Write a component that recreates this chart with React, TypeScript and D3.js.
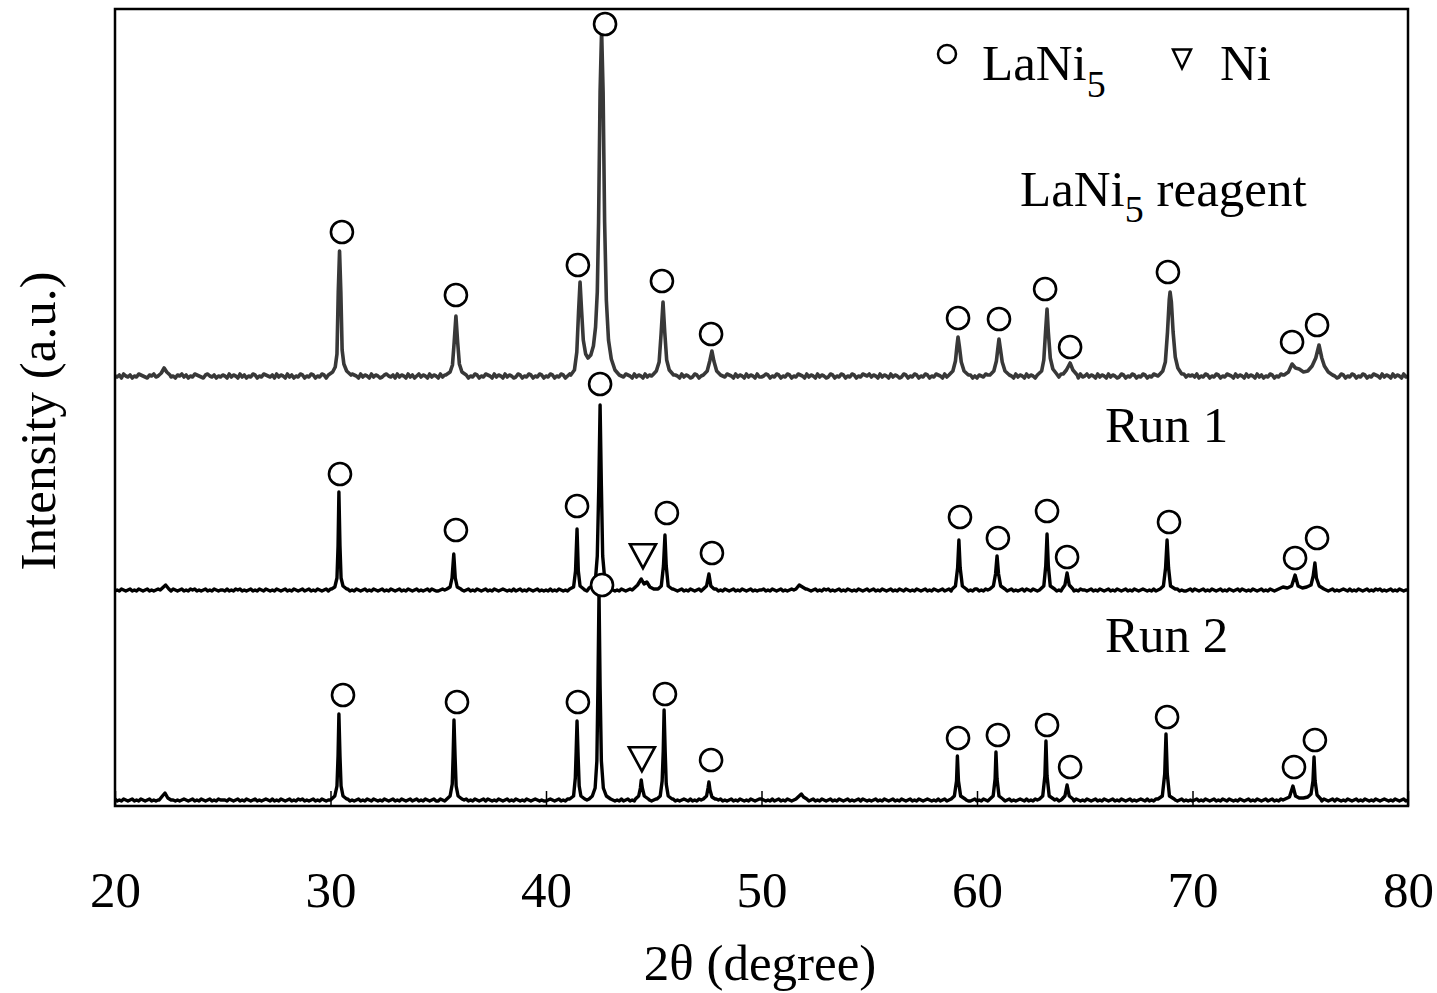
import React, { useEffect, useRef } from "react";
import * as d3 from "d3";

const WIDTH = 1437;
const HEIGHT = 993;
const PLOT = { left: 115, right: 1408, top: 9, bottom: 806 };
const FONT = "'Times New Roman', 'Liberation Serif', serif";

const xDomain = [20, 80];
const xTicks = [20, 30, 40, 50, 60, 70, 80];
const STEP = 0.1; // baseline sampling step (degree)

const reagentBase = [
  "65748657465876547685746587564768574658765478657465",
  "76485764857465874658765748576485746587465874658746",
  "57468574658764857648576457865748576485746857648576",
  "48576485746587465874658764857648576458746587465874",
  "65874658746857648576485746587465874658764857648576",
  "74658764857648576458746857465874658764857648576485",
  "56874658746587465876485764857645874658746587465876",
  "85764857648576458746587465874658764857648576485746",
  "47658746587465876485764857645874658746587465876485",
  "68576485764857645874658746587465876485764857648576",
  "75846587465874658764857648576485746587465874658764",
  "56485764857648576458746587465874658764857648576485",
  "666666",
].join("");
const run1Base = [
  "56576567565765675656765756576567565767565675657656",
  "65756576756567565765765657656756576567567565765675",
  "76565756756576567565765675657656756576567565675765",
  "56765675657656756576567565765676565756756576567565",
  "65756576565765675765657656756576565765676565765675",
  "57656756576567565765675656765756576567565765675656",
  "67565765675656765756576567565767565675657656576567",
  "56756576567565765765657656756576567567565765675657",
  "75657656756576567565675765765656765675657656756576",
  "65675657656756576567565765676565756756576567565567",
  "57656756576567565765675765657656756576565765676565",
  "66576567565765675656765756576567565767565675657656",
  "666666",
].join("");
const run2Base = [
  "75657656756576567565675765765656765675657656756576",
  "66576567565765675656765756576567565767565675657656",
  "65756576756567565765765657656756576567567565765675",
  "57656756576567565765675765657656756576565765676565",
  "56765675657656756576567565765676565756756576567565",
  "67565765675656765756576567565767565675657656576567",
  "76565756756576567565765675657656756576567565675765",
  "65675657656756576567565765676565756756576567565567",
  "56576567565765675656765756576567565767565675657656",
  "57656756576567565765675656765756576567565765675656",
  "56756576567565765765657656756576567567565765675657",
  "65756576565765675765657656756576565765676565765675",
  "666666",
].join("");

// peak profiles [2theta, counts]
const reagentPeaks = [
  [[22.0, 6], [22.15, 9], [22.28, 14], [22.4, 10], [22.55, 7]],
  [[29.9, 7], [30.1, 10], [30.22, 15], [30.3, 28], [30.36, 90], [30.42, 131], [30.48, 90], [30.54, 32], [30.62, 18], [30.75, 11], [30.95, 7]],
  [[35.35, 7], [35.55, 10], [35.66, 17], [35.74, 40], [35.82, 66], [35.9, 40], [35.98, 18], [36.1, 10], [36.3, 7]],
  [[41.15, 7], [41.32, 12], [41.43, 30], [41.51, 70], [41.58, 100], [41.65, 72], [41.73, 42], [41.84, 28], [41.95, 24], [42.08, 27], [42.2, 36], [42.3, 55], [42.38, 90], [42.44, 160], [42.51, 290], [42.58, 352], [42.65, 290], [42.72, 160], [42.8, 82], [42.9, 42], [43.03, 23], [43.2, 12], [43.4, 7]],
  [[44.95, 7], [45.12, 11], [45.25, 20], [45.34, 48], [45.43, 80], [45.51, 50], [45.6, 22], [45.72, 12], [45.92, 7]],
  [[47.3, 7], [47.48, 11], [47.6, 21], [47.7, 31], [47.79, 21], [47.92, 11], [48.1, 7]],
  [[58.7, 7], [58.88, 11], [59.0, 21], [59.07, 36], [59.12, 45], [59.18, 36], [59.27, 20], [59.4, 11], [59.6, 7]],
  [[60.6, 7], [60.78, 11], [60.9, 21], [60.97, 34], [61.02, 43], [61.08, 34], [61.17, 20], [61.3, 11], [61.5, 7]],
  [[62.8, 7], [63.0, 11], [63.1, 22], [63.18, 50], [63.25, 73], [63.31, 50], [63.4, 24], [63.52, 13], [63.7, 8]],
  [[64.0, 8], [64.15, 12], [64.32, 19], [64.45, 12], [64.65, 7]],
  [[68.45, 7], [68.62, 11], [68.74, 20], [68.84, 50], [68.92, 82], [68.96, 90], [69.02, 80], [69.1, 50], [69.2, 25], [69.32, 14], [69.5, 8]],
  [[74.25, 7], [74.45, 10], [74.62, 18], [74.78, 14], [74.95, 13], [75.15, 10], [75.35, 11], [75.55, 16], [75.72, 24], [75.87, 37], [76.0, 24], [76.12, 16], [76.3, 10], [76.5, 7]],
];
const run1Peaks = [
  [[22.1, 6], [22.25, 9], [22.35, 11], [22.5, 7]],
  [[30.05, 7], [30.2, 9], [30.3, 18], [30.35, 50], [30.39, 104], [30.44, 50], [30.49, 18], [30.58, 10], [30.75, 7]],
  [[35.4, 7], [35.55, 9], [35.64, 18], [35.72, 42], [35.79, 18], [35.88, 9], [36.05, 7]],
  [[41.1, 7], [41.28, 9], [41.37, 25], [41.44, 67], [41.5, 25], [41.58, 10], [41.75, 7]],
  [[42.0, 8], [42.15, 10], [42.3, 18], [42.38, 40], [42.45, 110], [42.51, 191], [42.57, 110], [42.63, 40], [42.72, 18], [42.85, 10], [43.05, 7]],
  [[44.05, 7], [44.25, 11], [44.42, 17], [44.55, 12], [44.68, 14], [44.82, 9], [45.0, 7]],
  [[45.2, 7], [45.35, 10], [45.45, 30], [45.52, 61], [45.58, 30], [45.67, 10], [45.85, 7]],
  [[47.3, 7], [47.45, 10], [47.56, 22], [47.65, 10], [47.8, 7]],
  [[51.6, 7], [51.75, 11], [51.9, 9], [52.05, 7]],
  [[58.85, 7], [59.0, 10], [59.1, 28], [59.16, 56], [59.22, 28], [59.32, 10], [59.5, 7]],
  [[60.6, 7], [60.76, 10], [60.86, 22], [60.93, 40], [61.0, 22], [61.1, 10], [61.3, 7]],
  [[62.95, 7], [63.1, 10], [63.19, 30], [63.25, 62], [63.31, 30], [63.4, 10], [63.6, 7]],
  [[63.95, 7], [64.08, 11], [64.18, 23], [64.28, 11], [64.45, 7]],
  [[68.5, 7], [68.65, 10], [68.75, 28], [68.82, 56], [68.89, 28], [68.98, 10], [69.2, 7]],
  [[74.0, 7], [74.2, 9], [74.4, 8], [74.6, 10], [74.76, 21], [74.9, 10], [75.1, 8], [75.3, 9], [75.5, 11], [75.6, 20], [75.68, 33], [75.75, 18], [75.88, 10], [76.1, 7]],
];
const run2Peaks = [
  [[22.05, 6], [22.2, 10], [22.32, 13], [22.45, 8], [22.6, 6]],
  [[30.05, 7], [30.2, 10], [30.3, 20], [30.35, 50], [30.39, 92], [30.44, 50], [30.49, 20], [30.58, 10], [30.75, 7]],
  [[35.4, 7], [35.55, 10], [35.65, 22], [35.69, 50], [35.73, 86], [35.78, 50], [35.83, 20], [35.92, 10], [36.1, 7]],
  [[41.1, 7], [41.28, 10], [41.36, 28], [41.4, 55], [41.44, 85], [41.49, 50], [41.54, 20], [41.62, 10], [41.8, 7]],
  [[42.0, 7], [42.15, 10], [42.28, 18], [42.36, 45], [42.41, 120], [42.46, 214], [42.51, 120], [42.57, 45], [42.66, 18], [42.8, 10], [43.0, 7]],
  [[44.15, 7], [44.3, 10], [44.38, 18], [44.42, 26], [44.47, 18], [44.56, 10], [44.75, 7]],
  [[45.15, 7], [45.3, 10], [45.39, 25], [45.44, 55], [45.48, 96], [45.53, 55], [45.58, 22], [45.67, 10], [45.85, 7]],
  [[47.3, 7], [47.45, 10], [47.52, 18], [47.56, 24], [47.61, 16], [47.7, 9], [47.85, 7]],
  [[51.6, 7], [51.75, 10], [51.85, 12], [51.95, 9], [52.1, 7]],
  [[58.8, 7], [58.95, 10], [59.05, 25], [59.09, 50], [59.14, 25], [59.24, 10], [59.45, 7]],
  [[60.6, 7], [60.75, 10], [60.84, 27], [60.88, 54], [60.93, 27], [61.02, 10], [61.2, 7]],
  [[62.9, 7], [63.05, 10], [63.15, 30], [63.2, 65], [63.25, 30], [63.35, 10], [63.55, 7]],
  [[63.95, 7], [64.08, 10], [64.18, 21], [64.28, 10], [64.45, 7]],
  [[68.4, 7], [68.6, 10], [68.71, 32], [68.77, 72], [68.83, 32], [68.93, 10], [69.15, 7]],
  [[74.3, 7], [74.5, 9], [74.66, 20], [74.78, 10], [74.95, 8], [75.15, 8], [75.35, 9], [75.5, 12], [75.59, 25], [75.64, 49], [75.69, 25], [75.78, 11], [75.95, 7]],
];

// phase markers [2theta, counts above the pattern's own zero]
const reagentCircles = [[30.53, 150], [35.82, 87], [41.48, 117], [42.74, 358], [45.38, 101], [47.66, 48], [59.12, 64], [61.02, 63], [63.16, 93], [64.32, 35], [68.86, 110], [74.62, 40], [75.78, 57]];
const run1Circles = [[30.44, 122], [35.82, 66], [41.44, 90], [42.51, 212], [45.61, 83], [47.7, 43], [59.21, 79], [60.97, 58], [63.25, 85], [64.18, 39], [68.91, 74], [74.76, 38], [75.78, 58]];
const run1Triangles = [[44.5, 41]];
const run2Circles = [[30.58, 111], [35.87, 104], [41.48, 104], [42.6, 221], [45.52, 112], [47.66, 46], [59.12, 68], [60.97, 71], [63.25, 81], [64.32, 39], [68.82, 89], [74.71, 39], [75.68, 66]];
const run2Triangles = [[44.45, 48]];

// vertical stacking offsets (counts)
const offsets = { reagent: 424, run1: 210, run2: 0 };

const buildTrace = (base: string, peaks: number[][][]) => {
  const ranges = peaks.map(p => [p[0][0], p[p.length - 1][0]]);
  const n = Math.round((xDomain[1] - xDomain[0]) / STEP) + 1;
  const pts: number[][] = [];
  base
    .slice(0, n)
    .split("")
    .forEach((c, i) => {
      const t = (xDomain[0] * 10 + i * STEP * 10) / 10;
      if (!ranges.some(([a, b]) => t >= a && t <= b)) pts.push([t, +c]);
    });
  peaks.forEach(p => p.forEach(d => pts.push(d)));
  return pts.sort((a, b) => a[0] - b[0]);
};

const App = () => {
  const svgRef = useRef<SVGSVGElement | null>(null);

  useEffect(() => {
    const svg = d3.select(svgRef.current);
    svg.selectAll("*").remove();

    const x = d3.scaleLinear().domain(xDomain).range([PLOT.left, PLOT.right]);
    const y = d3.scaleLinear().domain([0, PLOT.bottom - PLOT.top]).range([PLOT.bottom, PLOT.top]);

    const traces = [
      { data: buildTrace(reagentBase, reagentPeaks), off: offsets.reagent, color: "#383838", width: 3.6 },
      { data: buildTrace(run1Base, run1Peaks), off: offsets.run1, color: "#000", width: 3.4 },
      { data: buildTrace(run2Base, run2Peaks), off: offsets.run2, color: "#000", width: 3.4 },
    ];

    svg.append("rect").attr("width", WIDTH).attr("height", HEIGHT).attr("fill", "#fff");

    // x axis with inward ticks
    svg
      .append("g")
      .attr("transform", `translate(0,${PLOT.bottom})`)
      .call(d3.axisBottom(x).tickValues(xTicks).tickSizeInner(-15).tickSizeOuter(0).tickPadding(65))
      .call(g => g.select(".domain").remove())
      .call(g => g.selectAll(".tick line").attr("stroke", "#000").attr("stroke-width", 1.5))
      .call(g =>
        g
          .selectAll(".tick text")
          .attr("fill", "#000")
          .style("font-family", FONT)
          .style("font-size", "51px"),
      );

    traces.forEach(t => {
      const line = d3
        .line<number[]>()
        .x(d => x(d[0]))
        .y(d => y(d[1] + t.off));
      svg
        .append("path")
        .datum(t.data)
        .attr("fill", "none")
        .attr("stroke", t.color)
        .attr("stroke-width", t.width)
        .attr("stroke-linejoin", "round")
        .attr("d", line);
    });

    // frame
    svg
      .append("rect")
      .attr("x", PLOT.left)
      .attr("y", PLOT.top)
      .attr("width", PLOT.right - PLOT.left)
      .attr("height", PLOT.bottom - PLOT.top)
      .attr("fill", "none")
      .attr("stroke", "#000")
      .attr("stroke-width", 2.5);

    const circleSets = [
      { pts: reagentCircles, off: offsets.reagent },
      { pts: run1Circles, off: offsets.run1 },
      { pts: run2Circles, off: offsets.run2 },
    ];
    circleSets.forEach(s =>
      svg
        .append("g")
        .selectAll("circle")
        .data(s.pts)
        .join("circle")
        .attr("cx", d => x(d[0]))
        .attr("cy", d => y(d[1] + s.off))
        .attr("r", 11)
        .attr("fill", "#fff")
        .attr("stroke", "#000")
        .attr("stroke-width", 2.6),
    );

    const tri = (w: number, h: number) => `M${-w / 2},${-h * 0.45}L${w / 2},${-h * 0.45}L0,${h * 0.55}Z`;
    const triSets = [
      { pts: run1Triangles, off: offsets.run1 },
      { pts: run2Triangles, off: offsets.run2 },
    ];
    triSets.forEach(s =>
      svg
        .append("g")
        .selectAll("path")
        .data(s.pts)
        .join("path")
        .attr("transform", d => `translate(${x(d[0])},${y(d[1] + s.off)})`)
        .attr("d", tri(26, 24))
        .attr("fill", "#fff")
        .attr("stroke", "#000")
        .attr("stroke-width", 2.6),
    );

    const text = (tx: number, ty: number, anchor = "start") =>
      svg
        .append("text")
        .attr("x", tx)
        .attr("y", ty)
        .attr("text-anchor", anchor)
        .attr("fill", "#000")
        .style("font-family", FONT)
        .style("font-size", "51px");

    // axis titles
    text(760, 980, "middle").text("2θ (degree)");
    svg
      .append("text")
      .attr("transform", "translate(55,421) rotate(-90)")
      .attr("text-anchor", "middle")
      .style("font-family", FONT)
      .style("font-size", "51px")
      .text("Intensity (a.u.)");

    // pattern labels
    const reag = text(1020, 206);
    reag.append("tspan").text("LaNi");
    reag.append("tspan").attr("dy", 16).style("font-size", "38px").text("5");
    reag.append("tspan").attr("dy", -16).text(" reagent");
    text(1105, 442).text("Run 1");
    text(1105, 652).text("Run 2");

    // legend
    svg
      .append("circle")
      .attr("cx", 947)
      .attr("cy", 54)
      .attr("r", 9)
      .attr("fill", "#fff")
      .attr("stroke", "#000")
      .attr("stroke-width", 2.5);
    const leg = text(982, 80);
    leg.append("tspan").text("LaNi");
    leg.append("tspan").attr("dy", 17).style("font-size", "38px").text("5");
    svg
      .append("path")
      .attr("transform", "translate(1182,58)")
      .attr("d", tri(18, 19))
      .attr("fill", "#fff")
      .attr("stroke", "#000")
      .attr("stroke-width", 2.5);
    text(1220, 80).text("Ni");
  }, []);

  return (
    <svg
      ref={svgRef}
      width={WIDTH}
      height={HEIGHT}
      style={{ position: "absolute", left: 0, top: 0, display: "block" }}
    />
  );
};

export default App;
